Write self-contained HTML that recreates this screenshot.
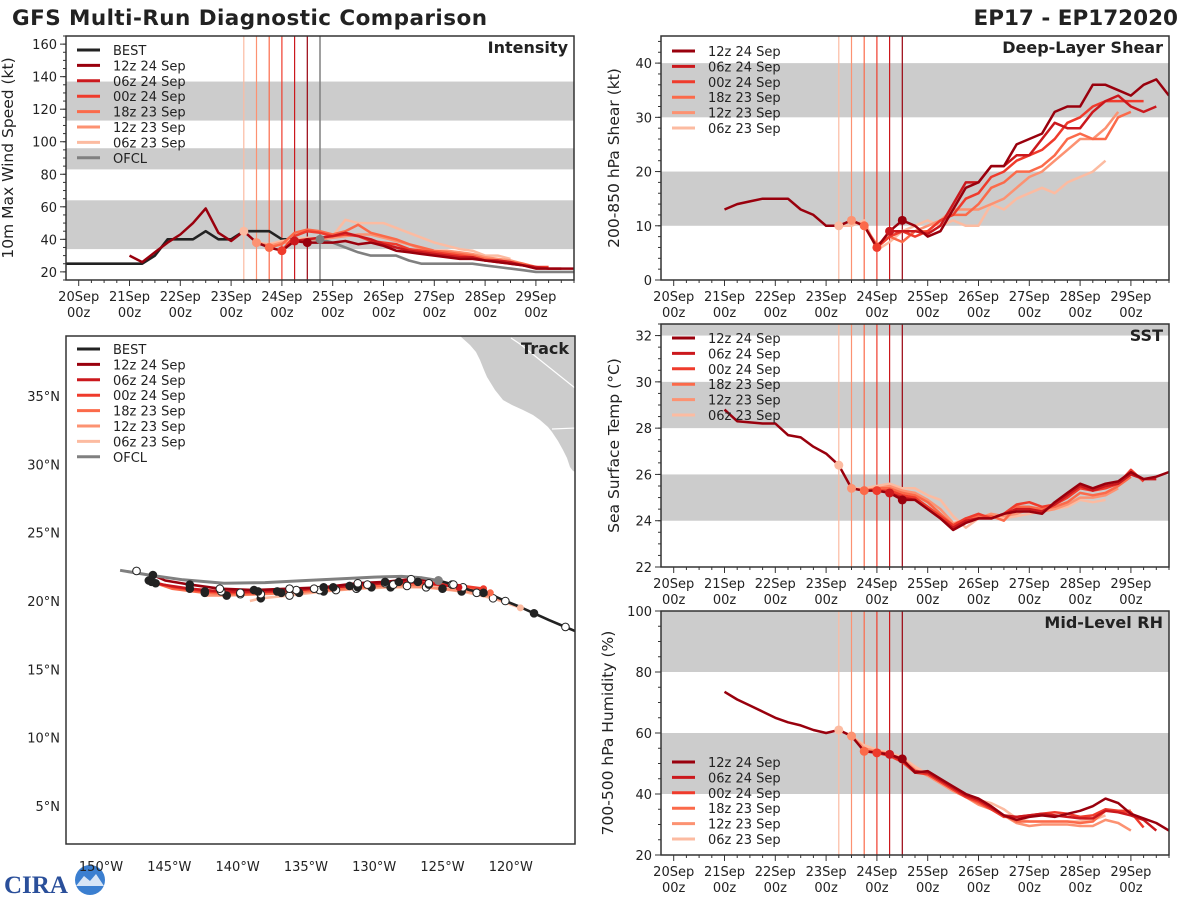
<!DOCTYPE html>
<html><head><meta charset="utf-8"><style>
html,body{margin:0;padding:0;background:#fff;}
svg{display:block;font-family:"DejaVu Sans","Liberation Sans",sans-serif;}
</style></head><body>
<svg id="fig" width="1200" height="900" viewBox="0 0 1200 900" xmlns="http://www.w3.org/2000/svg">
<text x="12" y="25" font-size="21.5" font-weight="bold" fill="#222" textLength="475">GFS Multi-Run Diagnostic Comparison</text>
<text x="1178" y="25" font-size="21.5" font-weight="bold" fill="#222" text-anchor="end">EP17 - EP172020</text>
<g>
<text x="4" y="893" font-size="25" font-weight="bold" fill="#2a4f9a" font-family="Liberation Serif, serif">CIRA</text>
<circle cx="90" cy="880" r="15" fill="#3b7fd0"/>
<path d="M76 886 L84 876 L90 881 L96 874 L104 886 Z" fill="#fff" opacity="0.8"/>
</g>
</svg>
<script>
// ---------- DATA ----------
const runLabels = ["12z 24 Sep","06z 24 Sep","00z 24 Sep","18z 23 Sep","12z 23 Sep","06z 23 Sep"];
const runInit = [24.5,24.25,24.0,23.75,23.5,23.25];
const xTickDays = [20,21,22,23,24,25,26,27,28,29];
const xTickLabels = ["20Sep","21Sep","22Sep","23Sep","24Sep","25Sep","26Sep","27Sep","28Sep","29Sep"];

// Intensity (kt), 6-hourly
const bestStart = 19.75;
const bestIntensity = [25,25,25,25,25,25,25,30,40,40,40,45,40,40,45,45,45,40,40,40,40];
const ofclStart = 24.75;
const ofclIntensity = [40,38,35,32,30,30,30,27,25,25,25,25,25,24,23,22,21,20,20,20,20];
const int12z24 = [30,26,32,38,43,50,59,44,39,45,38,35,33,39,38,38,38,39,37,38,36,33,32,31,30,29,28,28,27,26,25,24,22,22,22,22];
const int06z24 = [39,40,41,42,44,42,40,37,35,33,32,31,30,29,29,27,27,26,24,23,22,22];
const int00z24 = [33,42,45,44,42,43,42,39,38,37,34,33,32,31,30,29,27,26,25,24,23,23];
const int18z23 = [35,37,44,46,45,43,45,49,44,42,40,37,35,33,32,31,30,28,27,26,25,23];
const int12z23 = [38,36,38,38,40,40,41,42,43,43,41,39,37,34,33,33,32,31,29,28,27,25];
const int06z23 = [45,38,37,39,40,41,40,42,52,50,50,50,47,44,41,38,36,34,33,30,30,28];
const intTicks = [20,40,60,80,100,120,140,160];

// Shear (kt)
const sh12z24 = [13,14,14.5,15,15,15,13,12,10,10,11,10,6,9,11,10,8,9,13,17,18,21,21,25,26,27,31,32,32,36,36,35,34,36,37,34];
const sh06z24 = [9,9,9,8.5,10,14,18,18,21,21,23,23,26,29,28,28,31,33,34,32,31,32];
const sh00z24 = [6,8,9,8,9,11,12,15,16,19,20,22,23,24,26,29,30,32,33,33,33,33];
const sh18z23 = [10,6.5,8,7,9,9,11,12,12,14,17,18,20,20,21,23,26,27,26,26,30,31];
const sh12z23 = [11,10,6,8,9,9,10,11,13,13,13,14,15,17,19,20,22,24,26,26,28,31];
const sh06z23 = [10,10,11,5.5,7,9,10,11,10,11,10,10,14,13,15,16,17,16,18,19,20,22];
const shTicks = [0,10,20,30,40];

// SST (C)
const sst12z24 = [28.8,28.3,28.25,28.2,28.2,27.7,27.6,27.2,26.9,26.4,25.4,25.3,25.3,25.2,24.9,24.9,24.5,24.1,23.6,23.9,24.1,24.1,24.3,24.4,24.4,24.3,24.8,25.2,25.6,25.4,25.6,25.7,26.1,25.8,25.9,26.1];
const sst06z24 = [25.2,25.0,24.9,24.5,24.1,23.7,24.0,24.1,24.1,24.3,24.5,24.5,24.4,24.7,25.1,25.5,25.3,25.5,25.6,26.0,25.8,25.8];
const sst00z24 = [25.3,25.3,25.1,25.0,24.6,24.2,23.8,24.1,24.3,24.1,24.3,24.7,24.8,24.6,24.7,25.0,25.4,25.3,25.4,25.6,26.2,25.7];
const sst18z23 = [25.3,25.4,25.4,25.2,25.1,24.8,24.3,23.8,24.1,24.2,24.2,24.0,24.6,24.6,24.5,24.6,24.8,25.2,25.1,25.2,25.5,25.9];
const sst12z23 = [25.4,25.3,25.4,25.5,25.3,25.2,24.9,24.5,23.9,24.0,24.1,24.3,24.2,24.3,24.5,24.4,24.5,24.7,25.0,25.0,25.1,25.4];
const sst06z23 = [26.4,25.4,25.4,25.5,25.6,25.4,25.4,25.1,24.9,24.2,23.7,24.1,24.3,24.1,24.2,24.3,24.4,24.5,24.6,24.9,24.8,24.9];
const sstTicks = [22,24,26,28,30,32];

// RH (%)
const rh12z24 = [73.5,71,69,67,65,63.5,62.5,61,60,61,59,54,53.5,53,51.5,47,47.5,45,42.5,40,38.5,36,33,31.5,32.5,33,32.5,33.5,34.5,36,38.5,37,33.5,32,30.5,28];
const rh06z24 = [53,51,47.5,47,44.5,42,39.5,38,35.5,33,32.5,33,33.5,33,32.5,32,32,34.5,34,33,31.5,28];
const rh00z24 = [53.5,52.5,50.5,47,46.5,44,41.5,39,37.5,35,32.5,32.5,33,33.5,34,33.5,32.5,33,35,34.5,34,29];
const rh18z23 = [54,54,53,51,47.5,46.5,44,41.5,39,37,35,33,31,31,31,31,31,30.5,31,34.5,34.5,34.5];
const rh12z23 = [59,55,54,53,51.5,48,46,43.5,41,39,36.5,35,33,30.5,29.5,30,30,30,29.5,29.5,31.5,30.5,28];
const rh06z23 = [61,59,56,54.5,53.5,52,49,46.5,44.5,42,40,38,37,35,32,31,31,31,31,31,31.5,33];
const rhTicks = [20,40,60,80,100];

// Track (lon, lat)
const bestTrack = [[-114.8,17.6],[-116,18.1],[-117.2,18.6],[-118.3,19.1],[-119.4,19.6],[-120.4,20.0],[-121.3,20.4],[-122.0,20.6],[-123.0,20.8],[-124.2,21.2],[-125.3,21.5]];
const ofclTrack = [[-125.3,21.5],[-126.5,21.7],[-128,21.8],[-130,21.75],[-132,21.65],[-135,21.5],[-138,21.35],[-141,21.3],[-144,21.55],[-146.5,21.9],[-148.6,22.25]];
const trk12z24 = [[-125.3,21.5],[-127.3,21.6],[-129.2,21.4],[-131.2,21.3],[-133.7,21.0],[-136.2,20.9],[-138.8,20.8],[-141.3,20.9],[-143.5,21.2],[-145.3,21.5],[-146.2,21.9]];
const trk06z24 = [[-123.8,21.0],[-126,21.3],[-128.2,21.4],[-130.5,21.2],[-133,21.0],[-135.7,20.8],[-138.5,20.7],[-141.2,20.7],[-143.5,20.9],[-145.5,21.2],[-146.5,21.5]];
const trk00z24 = [[-122.0,20.9],[-124.3,21.2],[-126.8,21.4],[-129.2,21.3],[-131.8,21.1],[-134.4,20.9],[-137.1,20.7],[-139.8,20.6],[-142.4,20.7],[-144.6,21.0],[-146.3,21.4]];
const trk18z23 = [[-121.5,20.6],[-123.5,21.0],[-126,21.2],[-128.6,21.2],[-131.2,21.0],[-134,20.8],[-136.8,20.6],[-139.8,20.5],[-142.4,20.6],[-144.8,20.9],[-146,21.3]];
const trk12z23 = [[-120.4,20.0],[-122.5,20.6],[-125,20.9],[-127.6,21.1],[-130.2,21.0],[-132.8,20.8],[-135.5,20.6],[-138.3,20.5],[-140.8,20.4],[-142.4,20.4]];
const trk06z23 = [[-119.3,19.5],[-121.3,20.2],[-123.6,20.7],[-126.2,21.0],[-128.8,21.0],[-131.3,20.9],[-133.7,20.7],[-136.2,20.4],[-138.3,20.2],[-139.1,20.0]];
const lonTicks = [-150,-145,-140,-135,-130,-125,-120];
const latTicks = [5,10,15,20,25,30,35];

// ---------- RENDER ----------
const NS = "http://www.w3.org/2000/svg";
const svg = document.getElementById("fig");
const colors = ["#99000d","#cb181d","#ef3b2c","#fb6a4a","#fc9272","#fcbba1"];
function mk(parent, tag, attrs, name, inter) {
  const el = document.createElementNS(NS, tag);
  for (const k in attrs) el.setAttribute(k, attrs[k]);
  
  
  parent.appendChild(el);
  return el;
}
function txt(parent, x, y, s, attrs, name) {
  const t = mk(parent, "text", Object.assign({x:x, y:y, fill:"#222", "font-size":13}, attrs||{}), name, false);
  t.textContent = s;
  return t;
}

function timePanel(cfg) {
  const g = mk(svg, "g", {}, cfg.name + "-panel", false);
  const X0 = 19.75, X1 = 29.75;
  const sx = d => cfg.x0 + (d - X0) / (X1 - X0) * (cfg.x1 - cfg.x0);
  const sy = v => cfg.y1 - (v - cfg.ymin) / (cfg.ymax - cfg.ymin) * (cfg.y1 - cfg.y0);
  const clip = mk(g, "clipPath", {id: cfg.name + "-clip"}, cfg.name + "-clip", false);
  mk(clip, "rect", {x:cfg.x0, y:cfg.y0, width:cfg.x1-cfg.x0, height:cfg.y1-cfg.y0}, "clip-rect", false);
  const plot = mk(g, "g", {"clip-path":"url(#" + cfg.name + "-clip)"}, cfg.name + "-plot-area", false);
  cfg.bands.forEach(b => {
    const yt = sy(Math.min(b[1], cfg.ymax)), yb = sy(b[0]);
    mk(plot, "rect", {x:cfg.x0, y:yt, width:cfg.x1-cfg.x0, height:yb-yt, fill:"#cccccc"}, "threshold-band", false);
  });
  runInit.forEach((d, i) => {
    mk(plot, "line", {x1:sx(d), x2:sx(d), y1:cfg.y0, y2:cfg.y1, stroke:colors[i], "stroke-width":1.2}, "init-time-line", false);
  });
  if (cfg.ofclLine) mk(plot, "line", {x1:sx(ofclStart), x2:sx(ofclStart), y1:cfg.y0, y2:cfg.y1, stroke:"#808080", "stroke-width":1.5}, "ofcl-time-line", false);
  const line = (start, vals, color, name, w) => {
    const pts = vals.map((v, i) => sx(start + i * 0.25).toFixed(1) + "," + sy(v).toFixed(1)).join(" ");
    mk(plot, "polyline", {points:pts, fill:"none", stroke:color, "stroke-width":w||2.5, "stroke-linejoin":"round"}, name, false);
  };
  if (cfg.best) line(bestStart, cfg.best, "#222", "best-line", 2.6);
  if (cfg.ofcl) line(ofclStart, cfg.ofcl, "#808080", "ofcl-line", 2.6);
  for (let i = 5; i >= 0; i--) {
    const vals = cfg.runs[i];
    const s0 = i === 0 ? cfg.histStart : runInit[i];
    line(s0, vals, colors[i], "run-line-" + runLabels[i].replace(/ /g, "-").toLowerCase());
  }
  for (let i = 5; i >= 0; i--) {
    const vals = cfg.runs[i];
    const idx = i === 0 ? Math.round((runInit[0] - cfg.histStart) / 0.25) : 0;
    mk(plot, "circle", {cx:sx(runInit[i]), cy:sy(vals[idx]), r:4.5, fill:colors[i]}, "init-marker", false);
  }
  if (cfg.ofcl) mk(plot, "circle", {cx:sx(ofclStart), cy:sy(cfg.ofcl[0]), r:4.5, fill:"#808080"}, "ofcl-init-marker", false);
  mk(g, "rect", {x:cfg.x0, y:cfg.y0, width:cfg.x1-cfg.x0, height:cfg.y1-cfg.y0, fill:"none", stroke:"#333", "stroke-width":1.5}, cfg.name + "-frame", false);
  for (let d = 20; d <= 29.75; d += 0.25) {
    const major = Math.abs(d - Math.round(d)) < 1e-6;
    mk(g, "line", {x1:sx(d), x2:sx(d), y1:cfg.y1, y2:cfg.y1 + (major ? 6 : 3), stroke:"#333", "stroke-width":1}, "x-tick", false);
  }
  xTickDays.forEach((d, i) => {
    txt(g, sx(d), cfg.y1 + 21, xTickLabels[i], {"text-anchor":"middle"}, "x-tick-label");
    txt(g, sx(d), cfg.y1 + 37, "00z", {"text-anchor":"middle"}, "x-tick-label-hour");
  });
  for (let v = Math.ceil(cfg.ymin / cfg.minor) * cfg.minor; v <= cfg.ymax + 1e-6; v += cfg.minor) {
    mk(g, "line", {x1:cfg.x0 - 3, x2:cfg.x0, y1:sy(v), y2:sy(v), stroke:"#333", "stroke-width":1}, "y-minor-tick", false);
  }
  cfg.ticks.forEach(v => {
    mk(g, "line", {x1:cfg.x0 - 6, x2:cfg.x0, y1:sy(v), y2:sy(v), stroke:"#333", "stroke-width":1}, "y-tick", false);
    txt(g, cfg.x0 - 9, sy(v) + 5, String(v), {"text-anchor":"end"}, "y-tick-label");
  });
  const cy = (cfg.y0 + cfg.y1) / 2;
  const lx = cfg.x0 - cfg.yoff;
  txt(g, lx, cy, cfg.ylabel, {"text-anchor":"middle", "font-size":15.5, transform:"rotate(-90 " + lx + " " + cy + ")"}, "y-axis-title");
  txt(g, cfg.x1 - 6, cfg.y0 + 17, cfg.title, {"text-anchor":"end", "font-size":16, "font-weight":"bold"}, "panel-title");
  const lg = mk(g, "g", {}, "legend", false);
  cfg.legend.forEach((e, i) => {
    const y = cfg.legY + i * 15.4;
    mk(lg, "line", {x1:cfg.x0 + 11, x2:cfg.x0 + 34, y1:y, y2:y, stroke:e[1], "stroke-width":3}, "legend-swatch", false);
    txt(lg, cfg.x0 + 47, y + 5, e[0], {}, "legend-entry");
  });
}
const runLeg = runLabels.map((l, i) => [l, colors[i]]);
timePanel({name:"intensity", x0:66, x1:574, y0:36, y1:280, ymin:15, ymax:165, ticks:intTicks, minor:5, yoff:53,
  bands:[[34,64],[83,96],[113,137]], runs:[int12z24,int06z24,int00z24,int18z23,int12z23,int06z23], histStart:21.0,
  best:bestIntensity, ofcl:ofclIntensity, ofclLine:true, title:"Intensity", ylabel:"10m Max Wind Speed (kt)",
  legend:[["BEST","#222"]].concat(runLeg, [["OFCL","#808080"]]), legY:50});
timePanel({name:"shear", x0:661, x1:1169, y0:36, y1:280, ymin:0, ymax:45, ticks:shTicks, minor:2, yoff:42,
  bands:[[10,20],[30,40]], runs:[sh12z24,sh06z24,sh00z24,sh18z23,sh12z23,sh06z23], histStart:21.0,
  title:"Deep-Layer Shear", ylabel:"200-850 hPa Shear (kt)", legend:runLeg, legY:51});
timePanel({name:"sst", x0:661, x1:1169, y0:324, y1:567, ymin:22, ymax:32.5, ticks:sstTicks, minor:0.5, yoff:42,
  bands:[[24,26],[28,30],[32,34]], runs:[sst12z24,sst06z24,sst00z24,sst18z23,sst12z23,sst06z23], histStart:21.0,
  title:"SST", ylabel:"Sea Surface Temp (°C)", legend:runLeg, legY:338});
timePanel({name:"rh", x0:661, x1:1169, y0:611, y1:855, ymin:20, ymax:100, ticks:rhTicks, minor:5, yoff:48,
  bands:[[40,60],[80,100]], runs:[rh12z24,rh06z24,rh00z24,rh18z23,rh12z23,rh06z23], histStart:21.0,
  title:"Mid-Level RH", ylabel:"700-500 hPa Humidity (%)", legend:runLeg, legY:762});

// ---------- TRACK ----------
(function(){
  const T = {x0:66, x1:575, y0:336, y1:844};
  const g = mk(svg, "g", {}, "track-panel", false);
  const px = lon => 101 + (lon + 150) * 13.66;
  const py = lat => 601 - (lat - 20) * 13.66;
  const clip = mk(g, "clipPath", {id:"track-clip"}, "track-clip", false);
  mk(clip, "rect", {x:T.x0, y:T.y0, width:T.x1-T.x0, height:T.y1-T.y0}, "clip-rect", false);
  const plot = mk(g, "g", {"clip-path":"url(#track-clip)"}, "track-map-area", false);
  mk(plot, "path", {d:"M460 336 L470 345 L476 352 L480 360 L484 370 L487 377 L495 390 L503 400 L512 405 L523 410 L533 415 L540 420 L548 427 L552 432 L558 441 L563 450 L567 458 L570 467 L573 471 L576 472 L576 336 Z", fill:"#cccccc"}, "land-mass", false);
  mk(plot, "polyline", {points:"511,338 520,344 575,388", fill:"none", stroke:"#fff", "stroke-width":1.2}, "state-border", false);
  mk(plot, "line", {x1:552, y1:429, x2:576, y2:428, stroke:"#fff", "stroke-width":1.2}, "country-border", false);
  const tline = (pts, color, name, w) => {
    mk(plot, "polyline", {points:pts.map(p => px(p[0]).toFixed(1) + "," + py(p[1]).toFixed(1)).join(" "), fill:"none", stroke:color, "stroke-width":w||2.6, "stroke-linejoin":"round"}, name, false);
  };
  const runs = [trk12z24,trk06z24,trk00z24,trk18z23,trk12z23,trk06z23];
  for (let i = 5; i >= 0; i--) tline(runs[i], colors[i], "track-run-" + runLabels[i].replace(/ /g, "-").toLowerCase());
  tline(bestTrack, "#222", "best-track");
  tline(ofclTrack, "#808080", "ofcl-track", 3);
  for (let i = 5; i >= 0; i--) {
    runs[i].forEach((p, k) => {
      if (k === 0 || k % 2 === 1 && k > 7) return;
      mk(plot, "circle", {cx:px(p[0]), cy:py(p[1]), r:3.8, fill:(k % 2 === 0 ? "#222" : "#fff"), stroke:"#222", "stroke-width":1}, "track-marker", false);
    });
    mk(plot, "circle", {cx:px(runs[i][0][0]), cy:py(runs[i][0][1]), r:3.5, fill:colors[i]}, "track-init-marker", false);
  }
  bestTrack.forEach((p, k) => {
    if (k % 2 === 1) mk(plot, "circle", {cx:px(p[0]), cy:py(p[1]), r:3.8, fill:(k % 4 === 1 ? "#fff" : "#222"), stroke:"#222", "stroke-width":1}, "best-track-marker", false);
  });
  mk(plot, "circle", {cx:px(ofclTrack[0][0]), cy:py(ofclTrack[0][1]), r:4.5, fill:"#808080"}, "ofcl-track-marker", false);
  mk(plot, "circle", {cx:px(-148.6 + 1.2), cy:py(22.2), r:3.8, fill:"#fff", stroke:"#222", "stroke-width":1}, "track-marker", false);
  mk(g, "rect", {x:T.x0, y:T.y0, width:T.x1-T.x0, height:T.y1-T.y0, fill:"none", stroke:"#333", "stroke-width":1.5}, "track-frame", false);
  lonTicks.forEach(l => txt(g, px(l), 871, Math.abs(l) + "°W", {"text-anchor":"middle"}, "lon-tick-label"));
  latTicks.forEach(l => txt(g, 60, py(l) + 5, l + "°N", {"text-anchor":"end"}, "lat-tick-label"));
  txt(g, T.x1 - 6, T.y0 + 18, "Track", {"text-anchor":"end", "font-size":16, "font-weight":"bold"}, "panel-title");
  const lg = mk(g, "g", {}, "track-legend", false);
  const leg = [["BEST","#222"]].concat(runLabels.map((l, i) => [l, colors[i]]), [["OFCL","#808080"]]);
  leg.forEach((e, i) => {
    const y = 349 + i * 15.4;
    mk(lg, "line", {x1:77, x2:100, y1:y, y2:y, stroke:e[1], "stroke-width":3}, "legend-swatch", false);
    txt(lg, 113, y + 5, e[0], {}, "legend-entry");
  });
})();
</script>
</body></html>
